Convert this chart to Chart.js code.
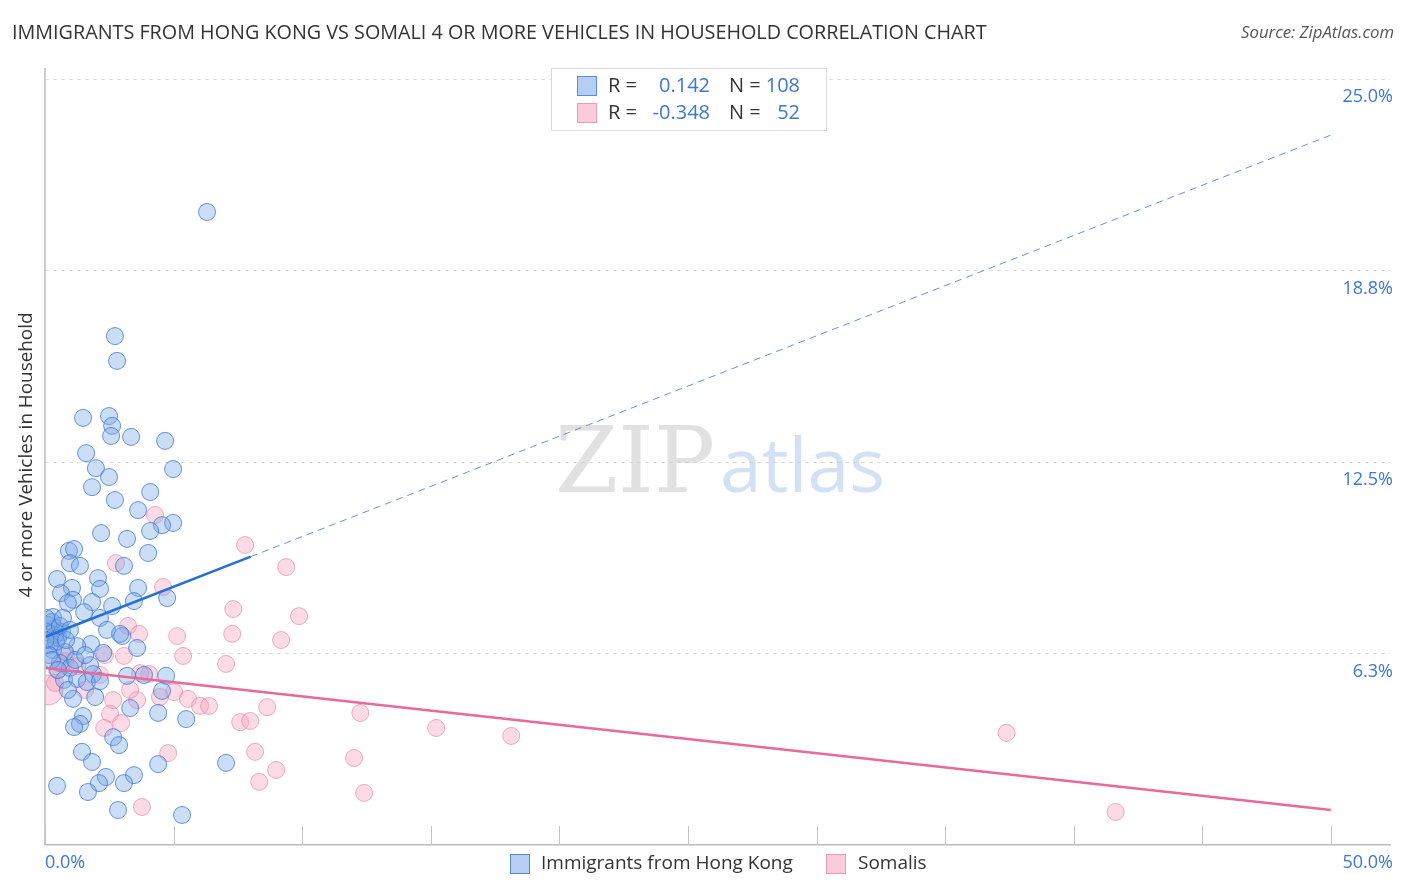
<!DOCTYPE html>
<html>
<head>
<meta charset="utf-8">
<script src="https://cdn.jsdelivr.net/npm/chart.js@4.4.1/dist/chart.umd.min.js"></script>
<style>
  html,body{margin:0;padding:0;background:#fff;}
  #wrap{width:1406px;height:892px;position:relative;}
</style>
</head>
<body>
<div id="wrap"><canvas id="c" width="1406" height="892"></canvas></div>
<script>
// ---- data (percent units) ----
const blueX = [6.30,2.72,2.80,1.48,2.49,2.61,2.57,3.35,4.67,1.60,1.98,4.98,1.83,2.49,2.72,4.09,3.62,4.98,4.55,4.09,
  2.18,3.19,0.93,1.13,4.01,0.97,1.36,3.07,0.47,2.06,1.05,2.14,3.62,0.62,1.09,1.83,2.61,4.75,3.46,0.89,
  2.14,1.52,0.31,2.41,0.39,0.66,3.00,2.92,1.79,1.25,3.58,2.26,0.19,0.31,0.78,0.58,1.75,0.97,1.87,3.19,
  3.85,4.71,0.74,1.25,1.63,2.14,4.55,1.95,1.09,3.31,4.40,5.49,1.48,1.36,1.13,2.65,2.88,1.44,1.83,7.04,
  4.40,3.46,2.37,2.10,1.67,3.07,0.47,2.84,5.33,0.12,0.27,0.39,0.08,0.51,0.19,0.04,0.58,0.43,0.70,0.16,
  0.82,0.27,0.97,0.02,0.51,1.17,0.89,1.56];
const blueY = [20.66,16.61,15.80,13.94,14.00,13.68,13.35,13.32,13.19,12.79,12.30,12.27,11.68,12.01,11.26,11.52,10.93,10.51,10.44,10.25,
  10.18,9.99,9.60,9.66,9.53,9.20,9.11,9.11,8.68,8.71,8.39,8.36,8.39,8.22,8.00,7.93,7.80,8.06,7.96,7.90,
  7.41,7.60,7.44,7.02,7.08,6.95,6.82,6.89,6.56,6.49,6.43,6.27,6.69,6.36,6.30,5.94,5.87,5.78,5.58,5.52,
  5.55,5.52,5.39,5.42,5.32,5.35,5.03,4.83,4.77,4.47,4.31,4.11,4.21,3.95,3.85,3.52,3.26,3.04,2.71,2.68,
  2.64,2.28,2.22,2.02,1.73,2.02,1.93,1.14,0.98,7.18,7.28,6.85,6.95,6.76,6.53,7.41,7.15,6.63,7.41,6.20,
  6.69,6.04,7.02,6.69,5.71,6.04,5.06,6.20];
const pinkX = [4.28,7.78,9.38,2.76,4.59,7.32,9.88,3.23,3.66,5.14,7.28,9.18,3.07,5.37,7.04,0.78,4.05,5.02,5.56,6.03,
  6.38,8.64,7.59,7.98,2.53,2.96,12.26,15.21,18.13,37.39,4.79,8.17,12.02,8.99,8.33,12.41,3.77,41.63,0.12,0.39,
  2.14,2.65,0.82,1.25,2.33,3.58,0.47,1.56,4.47,3.70,2.30,3.31];
const pinkY = [10.77,9.79,9.07,9.20,8.42,7.70,7.47,7.15,6.89,6.82,6.89,6.69,6.17,6.17,5.91,6.01,5.58,4.99,4.77,4.54,
  4.54,4.50,4.01,4.05,4.28,3.98,4.31,3.82,3.56,3.66,3.00,3.04,2.84,2.45,2.06,1.70,1.24,1.08,5.06,5.29,
  5.55,4.73,6.20,5.84,6.20,4.73,5.71,5.06,4.83,5.61,3.82,5.06];
const pinkSize = pinkX.map((v, i) => i === 38 ? 15 : 8.5);

const blueFit = {intercept: 6.79, slope: 0.3276, solidEnd: 8, end: 50};
const pinkFit = {intercept: 5.78, slope: -0.0928, end: 50};

const yTickValues = [6.25, 12.5, 18.75, 25];
const yTickLabels = ['6.3%', '12.5%', '18.8%', '25.0%'];
const xTickValues = [0,5,10,15,20,25,30,35,40,45,50];
const xEndLabels = ['0.0%', '50.0%'];

const legendRows = [
  {r: '0.142', n: '108'},
  {r: '-0.348', n: '52'}
];
const seriesNames = ['Immigrants from Hong Kong', 'Somalis'];
const titleText = 'IMMIGRANTS FROM HONG KONG VS SOMALI 4 OR MORE VEHICLES IN HOUSEHOLD CORRELATION CHART';
const sourceText = 'Source: ZipAtlas.com';
const yTitle = '4 or more Vehicles in Household';

// ---- styling ----
const BLUE_FILL = 'rgba(120,165,232,0.38)';
const BLUE_EDGE = 'rgba(55,118,214,0.75)';
const PINK_FILL = 'rgba(246,160,188,0.38)';
const PINK_EDGE = 'rgba(232,120,158,0.6)';
const BLUE_SW = 'rgba(120,165,232,0.55)';
const PINK_SW = 'rgba(246,160,188,0.55)';
const BLUE_LINE = '#2470d8';
const PINK_LINE = '#e8699a';
const LABEL_BLUE = '#3b78d6';

const fitLine = (f, a, b) => [{x: a, y: f.intercept + f.slope * a}, {x: b, y: f.intercept + f.slope * b}];
const pts = (xs, ys) => xs.map((x, i) => ({x, y: ys[i]}));

function fitSize(ctx, text, style, family, target) {
  ctx.font = style + ' 100px ' + family;
  return 100 * target / ctx.measureText(text).width;
}

const overlay = {
  id: 'overlay',
  beforeDatasetsDraw(chart) {
    const ctx = chart.ctx;
    ctx.save();
    ctx.textBaseline = 'alphabetic';
    ctx.textAlign = 'left';
    let s = fitSize(ctx, 'ZIP', '', '"DejaVu Serif", serif', 160);
    ctx.font = s + 'px "DejaVu Serif", serif';
    ctx.fillStyle = 'rgba(200,200,200,0.55)';
    ctx.fillText('ZIP', 555, 492);
    s = fitSize(ctx, 'atlas', '', '"Open Sans", sans-serif', 165);
    ctx.font = s + 'px "Open Sans", sans-serif';
    ctx.fillStyle = 'rgba(175,200,238,0.55)';
    ctx.fillText('atlas', 720, 492);
    ctx.restore();
  },
  afterDraw(chart) {
    const ctx = chart.ctx;
    const ca = chart.chartArea;
    const xs = chart.scales.x, ys = chart.scales.y;
    ctx.save();
    // left axis line
    ctx.strokeStyle = '#bdbdbd';
    ctx.lineWidth = 1.5;
    ctx.beginPath();
    ctx.moveTo(ca.left, ca.top); ctx.lineTo(ca.left, ca.bottom);
    ctx.stroke();
    // x tick marks
    ctx.lineWidth = 1;
    ctx.strokeStyle = '#c4c4c4';
    xTickValues.forEach(v => {
      const px = Math.round(xs.getPixelForValue(v)) + 0.5;
      ctx.beginPath(); ctx.moveTo(px, ca.bottom); ctx.lineTo(px, ca.bottom - 19); ctx.stroke();
    });
    // y tick labels (right, inside)
    ctx.fillStyle = LABEL_BLUE;
    ctx.font = '18px "Open Sans", sans-serif';
    ctx.textAlign = 'right';
    ctx.textBaseline = 'middle';
    ys.ticks.forEach((t, i) => {
      const py = ys.getPixelForValue(t.value);
      ctx.fillText(yTickLabels[i], 1393, py + 18);
    });
    // x end labels
    ctx.textAlign = 'left';
    ctx.fillText(xEndLabels[0], xs.getPixelForValue(0), 863);
    ctx.textAlign = 'right';
    ctx.fillText(xEndLabels[1], 1393, 863);
    // title
    ctx.textAlign = 'left';
    ctx.fillStyle = '#333';
    let s = fitSize(ctx, titleText, '', '"Open Sans", sans-serif', 975);
    ctx.font = s + 'px "Open Sans", sans-serif';
    ctx.fillText(titleText, 12, 33);
    // source
    ctx.textAlign = 'right';
    ctx.fillStyle = '#555';
    s = fitSize(ctx, sourceText, 'italic', '"Open Sans", sans-serif', 153);
    ctx.font = 'italic ' + s + 'px "Open Sans", sans-serif';
    ctx.fillText(sourceText, 1394, 33);
    // y title
    ctx.save();
    ctx.translate(27, 455);
    ctx.rotate(-Math.PI / 2);
    ctx.textAlign = 'center';
    ctx.fillStyle = '#333';
    s = fitSize(ctx, yTitle, '', '"Open Sans", sans-serif', 285);
    ctx.font = s + 'px "Open Sans", sans-serif';
    ctx.fillText(yTitle, 0, 0);
    ctx.restore();
    // top legend
    ctx.fillStyle = '#fff';
    ctx.fillRect(551, 68, 275, 62);
    ctx.strokeStyle = '#d9d9d9';
    ctx.lineWidth = 1;
    ctx.strokeRect(551.5, 68.5, 275, 62);
    const sw = [[BLUE_SW, BLUE_EDGE], [PINK_SW, PINK_EDGE]];
    legendRows.forEach((row, i) => {
      const cy = 86 + i * 27;
      ctx.fillStyle = sw[i][0];
      ctx.fillRect(577, cy - 10, 20, 20);
      ctx.strokeStyle = sw[i][1];
      ctx.strokeRect(577.5, cy - 9.5, 19, 19);
      ctx.font = '20px "Open Sans", sans-serif';
      ctx.textBaseline = 'middle';
      ctx.textAlign = 'left';
      ctx.fillStyle = '#333';
      ctx.fillText('R =', 608, cy);
      ctx.fillText('N =', 729, cy);
      ctx.textAlign = 'right';
      ctx.fillStyle = LABEL_BLUE;
      ctx.fillText(row.r, 710, cy);
      ctx.fillText(row.n, 800, cy);
    });
    // bottom legend
    const bl = [[510, 541], [826, 858]];
    seriesNames.forEach((name, i) => {
      ctx.fillStyle = sw[i][0];
      ctx.fillRect(bl[i][0], 854, 20, 20);
      ctx.strokeStyle = sw[i][1];
      ctx.strokeRect(bl[i][0] + 0.5, 854.5, 19, 19);
      ctx.fillStyle = '#333';
      ctx.textAlign = 'left';
      ctx.font = '19px "Open Sans", sans-serif';
      ctx.fillText(name, bl[i][1], 864);
    });
    ctx.restore();
  }
};

new Chart(document.getElementById('c'), {
  type: 'scatter',
  data: {
    datasets: [
      {type: 'line', data: fitLine(blueFit, 0, blueFit.solidEnd), borderColor: BLUE_LINE, borderWidth: 2.5, pointRadius: 0, fill: false},
      {type: 'line', data: fitLine(blueFit, blueFit.solidEnd, blueFit.end), borderColor: 'rgba(60,120,210,0.8)', borderWidth: 1, borderDash: [7, 5], pointRadius: 0, fill: false},
      {type: 'line', data: fitLine(pinkFit, 0, pinkFit.end), borderColor: PINK_LINE, borderWidth: 2.5, pointRadius: 0, fill: false},
      {data: pts(blueX, blueY), backgroundColor: BLUE_FILL, borderColor: BLUE_EDGE, borderWidth: 1, pointRadius: 8.5},
      {data: pts(pinkX, pinkY), backgroundColor: PINK_FILL, borderColor: PINK_EDGE, borderWidth: 1, pointRadius: pinkSize}
    ]
  },
  options: {
    responsive: false,
    animation: false,
    devicePixelRatio: 1,
    layout: {padding: {left: 45, right: 6, top: 68, bottom: 47}},
    plugins: {legend: {display: false}, tooltip: {enabled: false}},
    scales: {
      x: {
        type: 'linear', min: 0, max: 52.3,
        grid: {display: false, drawTicks: false},
        ticks: {display: false},
        border: {display: true, color: '#bdbdbd', width: 1.5}
      },
      y: {
        type: 'linear', position: 'right', min: 0, max: 25.36,
        afterBuildTicks: (scale) => { scale.ticks = yTickValues.map(v => ({value: v})); },
        grid: {color: '#dedede', drawTicks: false, lineWidth: 1},
        ticks: {display: false},
        border: {display: false, dash: [4, 4]}
      }
    }
  },
  plugins: [overlay]
});
</script>
</body>
</html>
